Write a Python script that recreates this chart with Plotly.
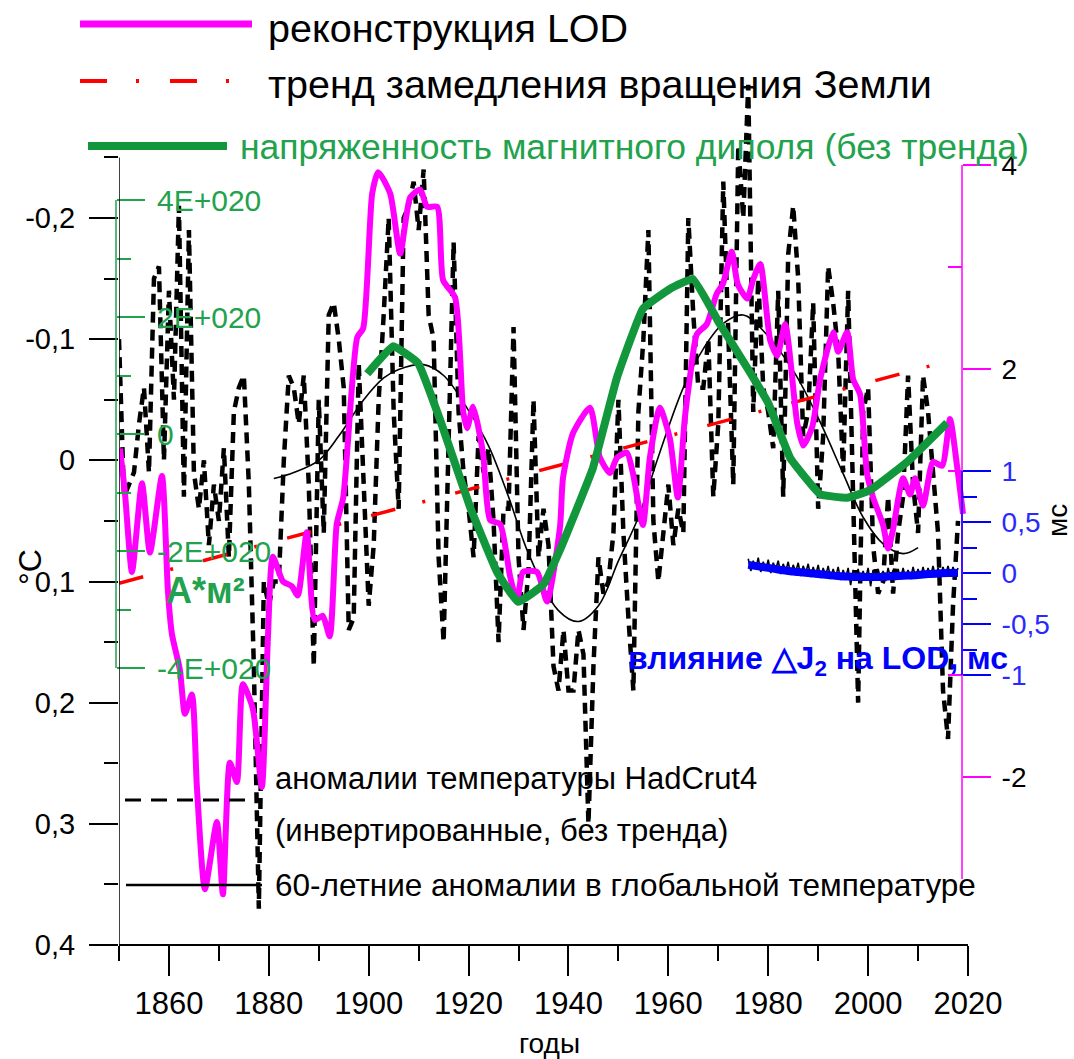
import plotly.graph_objects as go

W, H = 1074, 1059

# ---------------- data ----------------
temp_years = list(range(1850, 2019))
temp_detrended = [
    -0.10, 0.03, 0.02, 0.01, -0.03, -0.06, 0.01, -0.15, -0.16, 0.00,
    -0.14, -0.05, -0.21, 0.03, -0.19, 0.01, 0.04, 0.00, 0.07, 0.02,
    0.05, -0.01, 0.08, -0.04, -0.06, -0.07, 0.02, 0.17, 0.37, 0.10,
    0.12, 0.10, 0.10, 0.00, -0.07, -0.06, -0.03, -0.07, 0.02, 0.17,
    -0.05, 0.06, -0.12, -0.13, -0.10, -0.06, 0.14, 0.13, -0.08, 0.02,
    0.12, 0.07, -0.05, -0.12, -0.20, -0.04, 0.04, -0.20, -0.21, -0.23,
    -0.19, -0.24, -0.12, -0.10, 0.08, 0.15, -0.03, -0.18, -0.04, 0.01,
    0.04, 0.08, -0.02, 0.01, -0.01, 0.05, 0.15, 0.04, 0.04, -0.11,
    0.08, 0.14, 0.09, -0.05, 0.08, 0.04, 0.07, 0.17, 0.19, 0.14,
    0.19, 0.19, 0.14, 0.16, 0.30, 0.17, 0.08, 0.11, 0.10, 0.06,
    -0.05, 0.06, 0.13, 0.19, -0.04, -0.10, -0.19, 0.05, 0.10, 0.06,
    0.02, 0.07, 0.04, 0.06, -0.20, -0.12, -0.06, -0.06, -0.10, 0.03,
    -0.03, -0.23, -0.09, 0.02, -0.26, -0.20, -0.31, -0.04, -0.15, -0.06,
    -0.04, -0.01, -0.14, 0.03, -0.17, -0.21, -0.15, -0.02, -0.04, -0.13,
    0.04, -0.02, -0.16, -0.13, -0.09, 0.01, -0.14, 0.05, 0.20, -0.04,
    -0.06, 0.07, 0.11, 0.10, 0.03, 0.11, 0.06, 0.03, -0.07, 0.02,
    0.06, -0.07, -0.04, 0.01, 0.06, 0.19, 0.23, 0.12, 0.05,
]

cycle60_years = [1881, 1885, 1890, 1894, 1899, 1903, 1906, 1911, 1915, 1920,
                 1924, 1928, 1932, 1938, 1942, 1946, 1950, 1954, 1958, 1963,
                 1967, 1971, 1975, 1979, 1985, 1990, 1995, 1999, 2003, 2007, 2010]
cycle60_vals = [0.015, 0.010, 0.000, -0.020, -0.050, -0.068, -0.075, -0.079, -0.070, -0.041,
                -0.012, 0.030, 0.077, 0.124, 0.133, 0.120, 0.083, 0.047, -0.003, -0.060,
                -0.092, -0.113, -0.120, -0.107, -0.074, -0.035, 0.011, 0.047, 0.069, 0.077, 0.072]

lod_years = [1850.2, 1851.2, 1852.6, 1854.6, 1856.2, 1858.6, 1859.8, 1860.6, 1862.2, 1863.2,
             1864.6, 1865.6, 1867.2, 1869.6, 1870.8, 1872.2, 1873.6, 1874.8, 1876.8, 1878.6,
             1879.8, 1880.8, 1882.8, 1884.6, 1885.8, 1887.6, 1889.2, 1890.8, 1892.2, 1893.6,
             1894.9, 1897.7, 1898.9, 1900.7, 1901.9, 1904.3, 1906.3, 1908.3, 1910.3, 1911.7,
             1913.7, 1914.9, 1917.3, 1918.9, 1919.7, 1920.9, 1922.9, 1924.3, 1926.3, 1928.3,
             1929.7, 1930.9, 1933.7, 1935.7, 1938.3, 1938.9, 1940.9, 1944.3, 1946.3, 1948.3,
             1949.7, 1951.7, 1952.9, 1954.9, 1956.3, 1958.3, 1960.3, 1961.9, 1963.3, 1964.3,
             1965.7, 1967.7, 1969.7, 1970.9, 1972.7, 1973.9, 1975.8, 1977.0, 1978.4, 1980.4,
             1981.8, 1983.4, 1985.8, 1987.0, 1988.8, 1990.4, 1993.0, 1994.0, 1995.8, 1997.0,
             1998.4, 1999.8, 2001.0, 2003.0, 2004.0, 2005.0, 2007.0, 2008.4, 2009.4, 2011.0,
             2013.0, 2014.8, 2016.4, 2017.8, 2019.0]
lod_ms = [1.22, 0.78, 0.01, 0.88, 0.20, 0.95, -0.18, -0.60, -0.95, -1.38,
          -1.19, -2.10, -3.10, -2.44, -3.15, -1.86, -2.05, -1.09, -1.33, -2.10,
          -0.66, 0.16, -0.08, -0.13, -0.22, 0.40, -0.46, -0.42, -0.62, 0.48,
          0.74, 2.31, 2.40, 3.72, 3.93, 3.72, 3.13, 3.68, 3.76, 3.59,
          3.59, 2.87, 2.70, 1.59, 1.42, 1.63, 1.17, 0.52, 0.48, -0.03,
          -0.28, 0.01, 0.01, -0.28, 0.45, 0.93, 1.37, 1.62, 1.13, 0.98,
          1.13, 1.18, 0.98, 0.47, 1.13, 1.62, 1.32, 0.74, 1.52, 1.91,
          2.34, 2.44, 2.74, 2.83, 3.15, 2.83, 2.69, 2.88, 3.03, 2.28,
          2.13, 2.44, 1.47, 1.25, 1.43, 1.90, 2.36, 2.17, 2.36, 1.90,
          1.75, 0.97, 0.74, 0.47, 0.24, 0.43, 0.93, 0.77, 0.93, 0.66,
          1.09, 1.05, 1.51, 1.05, 0.58]

trend_years = [1850, 2017]
trend_ms = [-0.10, 2.09]

dipole_years = [1899.7, 1904.9, 1909.9, 1914.3, 1920.3, 1925.7, 1929.9, 1934.9, 1938.3, 1944.9,
                1949.7, 1954.9, 1960.3, 1964.9, 1970.3, 1975.8, 1980.0, 1984.4, 1990.4, 1995.8,
                2000.4, 2007.8, 2015.8]
dipole_e20 = [1.03, 1.50, 1.21, 0.24, -1.25, -2.36, -2.87, -2.58, -1.98, -0.58,
              0.96, 2.14, 2.48, 2.65, 1.88, 1.13, 0.53, -0.41, -1.03, -1.09,
              -0.96, -0.48, 0.19]
dipole_am2 = [v * 1e20 for v in dipole_e20]

j2_years = [1976, 1978, 1980, 1982, 1984, 1986, 1988, 1990, 1992, 1994, 1996,
            1998, 2000, 2002, 2004, 2006, 2008, 2010, 2012, 2014, 2016, 2018]
j2_smooth_ms = [0.08, 0.065, 0.05, 0.035, 0.02, 0.01, 0.0, -0.01, -0.02, -0.03, -0.035,
                -0.04, -0.04, -0.04, -0.035, -0.03, -0.025, -0.02, -0.01, -0.005, 0.0, 0.0]

j2_raw_years = [1976 + 0.5 * i for i in range(85)]
j2_raw_ms = [0.14, 0.02, 0.12, 0.04, 0.15, 0.01, 0.11, 0.03, 0.13, 0.00,
             0.10, 0.04, 0.12, -0.01, 0.09, 0.02, 0.11, -0.02, 0.08, 0.01,
             0.10, -0.03, 0.07, 0.00, 0.09, -0.04, 0.06, -0.02, 0.08, -0.05,
             0.05, -0.03, 0.07, -0.06, 0.04, -0.04, 0.06, -0.07, 0.03, -0.05,
             0.05, -0.12, 0.03, -0.06, 0.04, -0.08, 0.02, -0.05, 0.05, -0.13,
             0.03, -0.07, 0.04, -0.06, 0.02, -0.08, 0.05, -0.05, 0.03, -0.07,
             0.04, -0.06, 0.05, -0.05, 0.03, -0.06, 0.06, -0.04, 0.04, -0.05,
             0.06, -0.04, 0.05, -0.03, 0.07, -0.04, 0.05, -0.03, 0.06, -0.02,
             0.07, -0.03, 0.06, -0.02, 0.05]

year_ticks = [1860, 1880, 1900, 1920, 1940, 1960, 1980, 2000, 2020]
year_minor = [1850, 1870, 1890, 1910, 1930, 1950, 1970, 1990, 2010]
temp_ticks = [-0.2, -0.1, 0, 0.1, 0.2, 0.3, 0.4]
temp_ticktext = ["-0,2", "-0,1", "0", "0,1", "0,2", "0,3", "0,4"]
temp_minor = [-0.25, -0.15, -0.05, 0.05, 0.15, 0.25, 0.35]
dip_ticks = [4e20, 2e20, 0, -2e20, -4e20]
dip_ticktext = ["4E+020", "2E+020", "0", "-2E+020", "-4E+020"]
dip_minor = [3e20, 1e20, -1e20, -3e20]
lod_ticks = [4, 2, 0, -2]
lod_ticktext = ["4", "2", "", "-2"]
lod_minor = [3, 1, -1]
j2_ticks = [1, 0.5, 0, -0.5, -1]
j2_ticktext = ["1", "0,5", "0", "-0,5", "-1"]
j2_minor = [0.75, 0.25, -0.25, -0.75]

# ---------------- styling / layout constants ----------------
FONT = "Liberation Sans, Arial, sans-serif"
MAGENTA = "#ff00ff"
RED = "#ff0000"
GREEN_LINE = "#13973d"
GREEN_TXT = "#22a24c"
BLUE = "#0000ff"
BLUE_TXT = "#2a2aff"


def px(x, y):
    return x / W, 1 - y / H


def axis_range(p_val_a, y_a, p_val_b, y_b):
    slope = (y_b - y_a) / (p_val_b - p_val_a)
    v_top = p_val_a + (0 - y_a) / slope
    v_bot = p_val_a + (H - y_a) / slope
    return [v_bot, v_top]


X0, X1 = 119, 968
temp_range = axis_range(-0.2, 218, 0.4, 945)
dip_range = axis_range(4e20, 200, -4e20, 668)
ms_range = axis_range(4, 165, -2, 777)
RIGHT_POS = 962 / W
GREEN_POS = 116 / W

fig = go.Figure()

fig.add_trace(go.Scatter(x=temp_years, y=temp_detrended, yaxis="y", mode="lines",
                         line=dict(color="black", width=4.5, dash="11px,7px"), hoverinfo="skip"))
fig.add_trace(go.Scatter(x=cycle60_years, y=cycle60_vals, yaxis="y", mode="lines",
                         line=dict(color="black", width=1.6, shape="spline"), hoverinfo="skip"))
fig.add_trace(go.Scatter(x=trend_years, y=trend_ms, yaxis="y2", mode="lines",
                         line=dict(color=RED, width=3.5, dash="25px,28px,3px,31px"), hoverinfo="skip"))
fig.add_trace(go.Scatter(x=lod_years, y=lod_ms, yaxis="y2", mode="lines",
                         line=dict(color=MAGENTA, width=6, shape="spline", smoothing=0.6), hoverinfo="skip"))
fig.add_trace(go.Scatter(x=dipole_years, y=dipole_am2, yaxis="y3", mode="lines",
                         line=dict(color=GREEN_LINE, width=8, shape="spline", smoothing=0.3), hoverinfo="skip"))
fig.add_trace(go.Scatter(x=j2_raw_years, y=j2_raw_ms, yaxis="y4", mode="lines",
                         line=dict(color="black", width=1.6), hoverinfo="skip"))
fig.add_trace(go.Scatter(x=j2_years, y=j2_smooth_ms, yaxis="y4", mode="lines",
                         line=dict(color=BLUE, width=8, shape="spline"), hoverinfo="skip"))

tickfont = dict(family=FONT, size=29, color="black")

fig.update_layout(
    width=W, height=H, autosize=False, margin=dict(l=0, r=0, t=0, b=0, pad=0, autoexpand=False),
    paper_bgcolor="white", plot_bgcolor="white", showlegend=False,
    font=dict(family=FONT, color="black"),
    xaxis=dict(domain=[X0 / W, X1 / W], range=[1850, 2020], anchor="free",
               position=(H - 945) / H, showgrid=False, zeroline=False,
               showline=True, linecolor="black", linewidth=1.5,
               tickmode="array", tickvals=year_ticks, ticktext=[str(t) for t in year_ticks],
               ticks="outside", ticklen=30, tickwidth=1.5, tickcolor="black",
               ticklabelstandoff=1, tickfont=dict(family=FONT, size=31),
               minor=dict(tickmode="array", tickvals=year_minor, ticks="outside",
                          ticklen=15, tickwidth=1.5, tickcolor="black", showgrid=False)),
    yaxis=dict(domain=[0, 1], range=temp_range, anchor="x", side="left",
               showgrid=False, zeroline=False, showline=False,
               tickmode="array", tickvals=temp_ticks, ticktext=temp_ticktext,
               ticks="outside", ticklen=29, tickwidth=1.5, tickcolor="black",
               ticklabelstandoff=8, tickfont=tickfont,
               minor=dict(tickmode="array", tickvals=temp_minor, ticks="outside",
                          ticklen=14, tickwidth=1.5, tickcolor="black", showgrid=False)),
    yaxis2=dict(domain=[0, 1], range=ms_range, overlaying="y", anchor="free",
                position=RIGHT_POS, side="right", showgrid=False, zeroline=False, showline=False,
                tickmode="array", tickvals=lod_ticks, ticktext=lod_ticktext,
                ticks="outside", ticklen=28, tickwidth=1.5, tickcolor=MAGENTA,
                ticklabelstandoff=5, tickfont=dict(family=FONT, size=28, color="black"),
                minor=dict(tickmode="array", tickvals=lod_minor, ticks="inside",
                           ticklen=14, tickwidth=1.5, tickcolor=MAGENTA, showgrid=False)),
    yaxis3=dict(domain=[0, 1], range=dip_range, overlaying="y", anchor="free",
                position=GREEN_POS, side="right", showgrid=False, zeroline=False, showline=False,
                tickmode="array", tickvals=dip_ticks, ticktext=dip_ticktext,
                ticks="outside", ticklen=28, tickwidth=1.5, tickcolor=GREEN_TXT,
                ticklabelstandoff=6, tickfont=dict(family=FONT, size=30, color=GREEN_TXT),
                minor=dict(tickmode="array", tickvals=dip_minor, ticks="outside",
                           ticklen=14, tickwidth=1.5, tickcolor=GREEN_TXT, showgrid=False)),
    yaxis4=dict(domain=[0, 1], range=ms_range, overlaying="y", anchor="free",
                position=RIGHT_POS, side="right", showgrid=False, zeroline=False, showline=False,
                tickmode="array", tickvals=j2_ticks, ticktext=j2_ticktext,
                ticks="outside", ticklen=28, tickwidth=1.5, tickcolor=BLUE,
                ticklabelstandoff=5, tickfont=dict(family=FONT, size=28, color=BLUE_TXT),
                minor=dict(tickmode="array", tickvals=j2_minor, ticks="outside",
                           ticklen=14, tickwidth=1.5, tickcolor=BLUE, showgrid=False)),
)

shapes = []
shapes.append(dict(type="line", xref="x", yref="y", x0=1850, x1=1850,
                   y0=temp_minor[0], y1=temp_ticks[-1], line=dict(color="black", width=1.5)))
shapes.append(dict(type="line", xref="paper", yref="y3", x0=GREEN_POS, x1=GREEN_POS,
                   y0=dip_ticks[-1], y1=dip_ticks[0], line=dict(color=GREEN_TXT, width=1.5)))
shapes.append(dict(type="line", xref="paper", yref="y2", x0=RIGHT_POS, x1=RIGHT_POS,
                   y0=-3, y1=lod_ticks[0], line=dict(color=MAGENTA, width=1.5)))
shapes.append(dict(type="line", xref="paper", yref="y4", x0=RIGHT_POS, x1=RIGHT_POS,
                   y0=j2_ticks[-1], y1=j2_ticks[0], line=dict(color=BLUE, width=1.5)))


def legend_line(x0, x1, y, color, width, dash="solid"):
    a = px(x0, y)
    b = px(x1, y)
    shapes.append(dict(type="line", xref="paper", yref="paper", x0=a[0], x1=b[0], y0=a[1], y1=b[1],
                       line=dict(color=color, width=width, dash=dash)))


legend_line(80, 252, 24, MAGENTA, 7)
legend_line(80, 240, 81, RED, 4, "27px,29px,3px,31px")
legend_line(88, 227, 146, GREEN_LINE, 8)
legend_line(125, 255, 800, "black", 3, "16px,10px")
legend_line(126, 262, 885, "black", 2.5)
fig.update_layout(shapes=shapes)

annotations = []


def label(text, x, y, size, color="black", family=FONT, xanchor="left", angle=0):
    p = px(x, y)
    annotations.append(dict(text=text, x=p[0], y=p[1], xref="paper", yref="paper",
                            xanchor=xanchor, yanchor="middle", showarrow=False, textangle=angle,
                            font=dict(family=family, size=size, color=color)))


label("реконструкция LOD", 266, 28, 39.5)
label("тренд замедления вращения Земли", 266, 84, 39.5)
label("напряженность магнитного диполя (без тренда)", 238, 147, 35.5, GREEN_TXT)
label("аномалии температуры HadCrut4", 273, 778, 31)
label("(инвертированные, без тренда)", 273, 830, 31)
label("60-летние аномалии в глобальной температуре", 273, 885, 31.5)
label("<b>А*м²</b>", 205, 590, 36, GREEN_TXT, xanchor="center")
label("<b>влияние △J<sub>2</sub> на LOD, мс</b>", 626, 660, 32, BLUE)
label("°C", 30, 567, 32, xanchor="center", angle=-90)
label("мс", 1057, 521, 28, xanchor="center", angle=-90)
label("годы", 549, 1043, 28, xanchor="center")
fig.update_layout(annotations=annotations)

post = (
    "document.documentElement.style.margin='0';document.body.style.margin='0';"
    "document.body.style.padding='0';document.documentElement.style.overflow='hidden';"
    "document.body.style.overflow='hidden';"
    "var gd=document.getElementById('{plot_id}');"
    "Plotly.relayout(gd,{width:1074,height:1059});"
)
fig.write_html("out.html", config={"displayModeBar": False}, post_script=post)
